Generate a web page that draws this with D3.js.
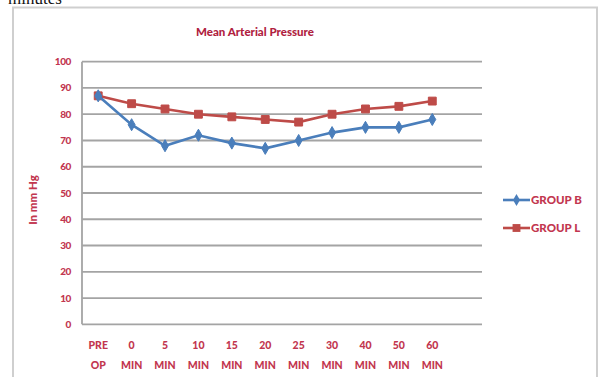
<!DOCTYPE html>
<html>
<head>
<meta charset="utf-8">
<script src="https://cdn.jsdelivr.net/npm/d3@7"></script>
<style>
  html, body { margin: 0; padding: 0; background: #fff; }
  svg { display: block; }
</style>
</head>
<body>
<svg id="chart" width="604" height="377"></svg>
<script>
// Mean arterial pressure (mm Hg) over time for two groups
const categories = ["PRE OP", "0 MIN", "5 MIN", "10 MIN", "15 MIN", "20 MIN", "25 MIN", "30 MIN", "40 MIN", "50 MIN", "60 MIN"];
const groupB = [87, 76, 68, 72, 69, 67, 70, 73, 75, 75, 78];
const groupL = [87, 84, 82, 80, 79, 78, 77, 80, 82, 83, 85];
const yTicks = [0, 10, 20, 30, 40, 50, 60, 70, 80, 90, 100];

const labelColor = "#c2364f";
const font = "Lato, 'Open Sans', sans-serif";

const svg = d3.select("#chart");

// Caption text running off the top of the page
svg.append("text")
  .attr("x", 8).attr("y", 4)
  .attr("font-family", "'Liberation Serif', serif")
  .attr("font-size", 17)
  .attr("fill", "#111")
  .text("minutes");

// Chart frame
svg.append("rect")
  .attr("x", 13).attr("y", 7.5)
  .attr("width", 584).attr("height", 380)
  .attr("fill", "#fff")
  .attr("stroke", "#cfcfcf").attr("stroke-width", 2);

const plotLeft = 82, plotRight = 482;
const x = d3.scaleBand().domain(categories).range([81.5, 449]).padding(0);
const y = d3.scaleLinear().domain([0, 100]).range([324.3, 61.7]);
const cx = c => x(c) + x.bandwidth() / 2;

// Horizontal gridlines
svg.append("g").selectAll("line")
  .data(yTicks)
  .join("line")
  .attr("x1", plotLeft).attr("x2", plotRight)
  .attr("y1", d => y(d)).attr("y2", d => y(d))
  .attr("stroke", "#a4a4a4").attr("stroke-width", 1.8);

// Vertical axis line
svg.append("line")
  .attr("x1", plotLeft).attr("x2", plotLeft)
  .attr("y1", y(100)).attr("y2", y(0))
  .attr("stroke", "#a4a4a4").attr("stroke-width", 1.8);

// Y axis tick labels
svg.append("g").selectAll("text")
  .data(yTicks)
  .join("text")
  .attr("x", 71).attr("y", d => y(d))
  .attr("dy", "0.35em")
  .attr("text-anchor", "end")
  .attr("font-family", font).attr("font-weight", "900")
  .attr("font-size", 10)
  .attr("letter-spacing", -0.4)
  .attr("fill", labelColor)
  .text(d => d);

// X axis category labels (two lines each)
const xl = svg.append("g").selectAll("text")
  .data(categories)
  .join("text")
  .attr("text-anchor", "middle")
  .attr("font-family", font).attr("font-weight", "900")
  .attr("font-size", 10.5)
  .attr("fill", labelColor);
xl.each(function(d) {
  const parts = d.split(" ");
  const t = d3.select(this);
  parts.forEach((p, i) => {
    t.append("tspan")
      .attr("x", cx(d))
      .attr("y", 349 + i * 20)
      .text(p);
  });
});

// Y axis title
svg.append("text")
  .attr("transform", "translate(37,200) rotate(-90)")
  .attr("text-anchor", "middle")
  .attr("font-family", font).attr("font-weight", "900")
  .attr("font-size", 11.5)
  .attr("fill", labelColor)
  .text("In mm Hg");

// Chart title
svg.append("text")
  .attr("x", 255).attr("y", 36)
  .attr("text-anchor", "middle")
  .attr("font-family", font).attr("font-weight", "900")
  .attr("font-size", 11.5)
  .attr("fill", "#b0223f")
  .text("Mean Arterial Pressure");

const series = [
  { name: "GROUP B", values: groupB, color: "#4a7ebb", marker: d3.symbolDiamond, size: 42 },
  { name: "GROUP L", values: groupL, color: "#be4b48", marker: d3.symbolSquare, size: 62 }
];

const line = d3.line().x(d => cx(d.c)).y(d => y(d.v));

// L drawn first so B sits on top at the shared starting point
[series[1], series[0]].forEach(s => {
  const pts = s.values.map((v, i) => ({ c: categories[i], v }));
  svg.append("path")
    .datum(pts)
    .attr("d", line)
    .attr("fill", "none")
    .attr("stroke", s.color)
    .attr("stroke-width", 2.6);
  svg.append("g").selectAll("path")
    .data(pts)
    .join("path")
    .attr("transform", d => `translate(${cx(d.c)},${y(d.v)})`)
    .attr("d", d3.symbol().type(s.marker).size(s.size))
    .attr("fill", s.color)
    .attr("stroke", s.color).attr("stroke-width", 1);
});

// Legend
const legend = svg.append("g");
series.forEach((s, i) => {
  const ly = 200 + i * 28;
  legend.append("line")
    .attr("x1", 503).attr("x2", 530)
    .attr("y1", ly).attr("y2", ly)
    .attr("stroke", s.color).attr("stroke-width", 2.6);
  legend.append("path")
    .attr("transform", `translate(516.5,${ly})`)
    .attr("d", d3.symbol().type(s.marker).size(s.size))
    .attr("fill", s.color);
  legend.append("text")
    .attr("x", 531).attr("y", ly)
    .attr("dy", "0.35em")
    .attr("font-family", font).attr("font-weight", "900")
    .attr("font-size", 11.5)
    .attr("fill", labelColor)
    .text(s.name);
});
</script>
</body>
</html>
